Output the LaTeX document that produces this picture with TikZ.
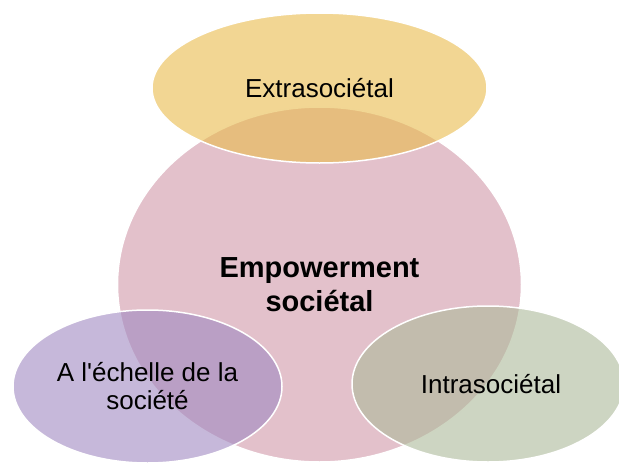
\documentclass[tikz,border=0pt]{standalone}
\usepackage{fontspec}
\setmainfont{Liberation Sans}
\usetikzlibrary{shapes.geometric}
\definecolor{pinkc}{RGB}{227,193,203}
\definecolor{yelc}{RGB}{233,187,75}
\definecolor{purc}{RGB}{160,137,193}
\definecolor{grnc}{RGB}{172,185,153}
\begin{document}
\begin{tikzpicture}[x=1pt,y=-1pt,
  blob/.style={ellipse, inner sep=0pt, draw=white, line width=1.5pt, align=center,
    font=\fontsize{26}{28}\selectfont},
  sat/.style={blob, fill opacity=0.6, text opacity=1}]
\clip (0,0) rectangle (619,466);
\useasboundingbox (0,0) rectangle (619,466);
\node[blob, fill=pinkc, minimum width=404pt, minimum height=355pt,
  font=\bfseries\fontsize{29}{34}\selectfont] (core) at (319.5,284.5) {Empowerment\\sociétal};
\node[sat, fill=yelc, minimum width=335pt, minimum height=150pt] (extra) at (319.5,88) {Extrasociétal};
\node[sat, fill=purc, minimum width=269pt, minimum height=153pt] (echelle) at (147.5,386.5) {A l\textquotesingle échelle de la\\société};
\node[sat, fill=grnc, minimum width=272pt, minimum height=156pt, text width=150pt, xshift=0pt] (intra) at (488,384) {\hspace*{6pt}Intrasociétal};
\end{tikzpicture}
\end{document}
